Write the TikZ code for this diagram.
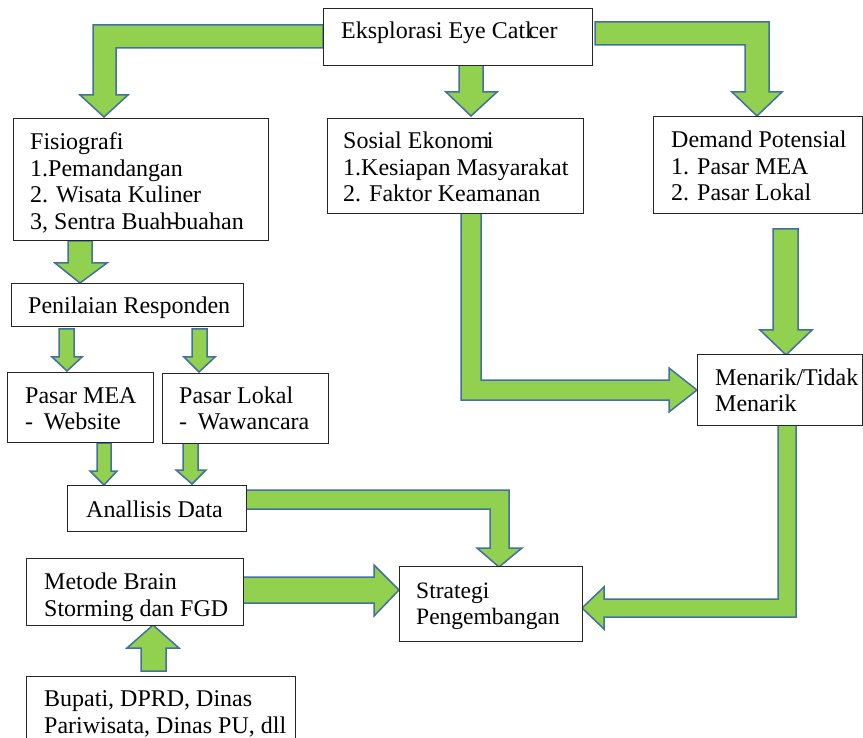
\documentclass[tikz,border=0pt]{standalone}
\usepackage{fontspec}
\setmainfont{Liberation Serif}
\definecolor{agreen}{RGB}{146,208,80}
\definecolor{ablue}{RGB}{65,113,156}
\newcommand{\boxlines}[1]{\begin{tabular}[t]{@{}l@{}}#1\end{tabular}}
\begin{document}
\begin{tikzpicture}[x=1pt,y=-1pt,
  arr/.style={fill=agreen,draw=ablue,line width=1.5pt,line join=miter},
  boxn/.style={draw=black!85,fill=white,line width=0.9pt,inner sep=0pt,outer sep=0pt,anchor=north west},
  txt/.style={inner sep=0pt,anchor=base west,font=\fontsize{24}{26.5}\selectfont},
  txts/.style={inner sep=0pt,anchor=base west,font=\fontsize{23.5}{26}\selectfont}]
\useasboundingbox (0,0) rectangle (863,738);
\clip (0,0) rectangle (863,738);
% ---------- block arrows ----------
% Eksplorasi -> Fisiografi
\draw[arr] (323,25) -- (93,25) -- (93,95) -- (80,95) -- (104,117) -- (128,95) -- (116,95) -- (116,48) -- (323,48) -- cycle;
% Eksplorasi -> Sosial
\draw[arr] (459,65) -- (459,92) -- (446,92) -- (471,116) -- (497,92) -- (483,92) -- (483,65) -- cycle;
% Eksplorasi -> Demand
\draw[arr] (595,22) -- (769,22) -- (769,92) -- (782,92) -- (757,116) -- (732,92) -- (745,92) -- (745,45) -- (595,45) -- cycle;
% Fisiografi -> Penilaian
\draw[arr] (68,241) -- (68,263) -- (55,263) -- (80,283) -- (107,263) -- (92,263) -- (92,241) -- cycle;
% Penilaian -> Pasar MEA
\draw[arr] (59,329) -- (59,357) -- (52,357) -- (67,371) -- (82,357) -- (74,357) -- (74,329) -- cycle;
% Penilaian -> Pasar Lokal
\draw[arr] (192,329) -- (192,357) -- (184,357) -- (199,372) -- (215,357) -- (207,357) -- (207,329) -- cycle;
% Pasar MEA -> Analisis
\draw[arr] (97,443) -- (97,471) -- (90,471) -- (104,485) -- (117,471) -- (111,471) -- (111,443) -- cycle;
% Pasar Lokal -> Analisis
\draw[arr] (183,443) -- (183,470) -- (176,470) -- (192,484) -- (206,470) -- (198,470) -- (198,443) -- cycle;
% Analisis -> Strategi
\draw[arr] (246,490) -- (509,490) -- (509,548) -- (522,548) -- (499,567) -- (477,548) -- (490,548) -- (490,509) -- (246,509) -- cycle;
% Sosial -> Menarik
\draw[arr] (461,213) -- (461,400) -- (669,400) -- (669,412) -- (697,390) -- (669,368) -- (669,380) -- (481,380) -- (481,213) -- cycle;
% Demand -> Menarik
\draw[arr] (773,229) -- (773,330) -- (760,330) -- (786,355) -- (812,330) -- (798,330) -- (798,229) -- cycle;
% Menarik -> Strategi
\draw[arr] (778,425) -- (796,425) -- (796,617) -- (604,617) -- (604,629) -- (582,608) -- (604,587) -- (604,599) -- (778,599) -- cycle;
% Metode -> Strategi
\draw[arr] (243,577) -- (374,577) -- (374,565) -- (399,590) -- (374,616) -- (374,603) -- (243,603) -- cycle;
% Bupati -> Metode
\draw[arr] (141,671) -- (141,648) -- (127,648) -- (153,625) -- (179,648) -- (166,648) -- (166,671) -- cycle;
% ---------- boxes ----------
\node[boxn,minimum width=269pt,minimum height=57pt] (eks) at (323,8) {};
\node[txt] (eksT) at (341,39) {Eksplorasi Eye Catl\kern-0.15em cer};
\node[boxn,minimum width=255pt,minimum height=122pt] (fis) at (13,118) {};
\node[txt] (fisT) at (30,150) {\boxlines{Fisiografi\\1.Pemandangan\\2. Wisata Kuliner\\3, Sentra Buah\kern-0.12em-\kern-0.12em buahan}};
\node[boxn,minimum width=256pt,minimum height=95pt] (sos) at (327,118) {};
\node[txt] (sosT) at (343,149) {\boxlines{Sosial Ekonom\kern-0.1em i\\1.Kesiapan Masyarakat\\2. Faktor Keamanan}};
\node[boxn,minimum width=209pt,minimum height=97pt] (dem) at (653,116) {};
\node[txt] (demT) at (671,148) {\boxlines{Demand Potensial\\1. Pasar MEA\\2. Pasar Lokal}};
\node[boxn,minimum width=232pt,minimum height=43pt] (pen) at (11,283) {};
\node[txt] (penT) at (28,314) {Penilaian Responden};
\node[boxn,minimum width=146pt,minimum height=70pt] (mea) at (7,372) {};
\node[txt] (meaT) at (25,403) {\boxlines{Pasar MEA\\-\hspace{0.45em}Website}};
\node[boxn,minimum width=166pt,minimum height=70pt] (lok) at (162,373) {};
\node[txt] (lokT) at (179,403) {\boxlines{Pasar Lokal\\-\hspace{0.45em}Wawancara}};
\node[boxn,minimum width=179pt,minimum height=46pt] (ana) at (67,485) {};
\node[txt] (anaT) at (86,517) {Anallisis Data};
\node[boxn,minimum width=165pt,minimum height=71pt] (men) at (697,354) {};
\node[txt] (menT) at (715,385) {\boxlines{Menarik/Tidak\\Menarik}};
\node[boxn,minimum width=217pt,minimum height=67pt] (met) at (26,558) {};
\node[txt,font=\fontsize{24}{27}\selectfont] (metT) at (44,589) {\boxlines{Metode Brain\\Storming dan FGD}};
\node[boxn,minimum width=183pt,minimum height=75pt] (str) at (399,566) {};
\node[txts] (strT) at (416,598) {\boxlines{Strategi\\Pengembangan}};
\node[boxn,minimum width=269pt,minimum height=80pt] (bup) at (26,676) {};
\node[txt,font=\fontsize{24}{27}\selectfont] (bupT) at (44,706) {\boxlines{Bupati, DPRD, Dinas\\Pariwisata, Dinas PU, dll}};
\end{tikzpicture}
\end{document}
